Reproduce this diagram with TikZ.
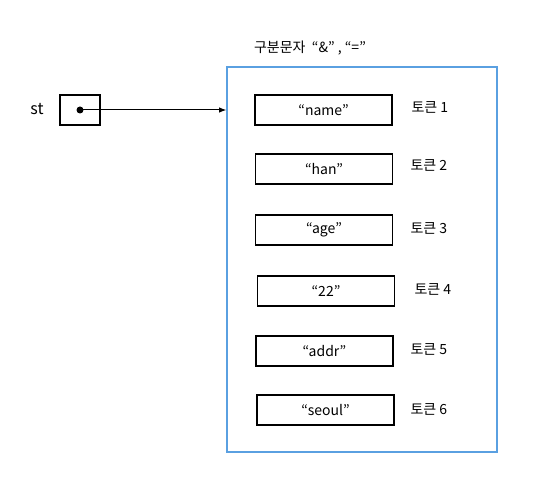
\documentclass[tikz,border=0pt]{standalone}
\usepackage{fontspec}
\setmainfont{Noto Sans CJK KR}
\usepackage{tikz}
\usetikzlibrary{arrows.meta}

\definecolor{frameblue}{RGB}{90,160,225}

\begin{document}
\begin{tikzpicture}[x=1pt, y=-1pt, every node/.style={font=\fontsize{14}{16}\selectfont}, >={Latex[length=2.5mm]},
	tokbox/.style={draw, line width=1.1pt, minimum width=137pt, minimum height=30pt, inner sep=0pt},
	toklabel/.style={anchor=west}]
	\useasboundingbox (0,0) rectangle (560,497);
	\node[draw, frameblue, line width=1.3pt, minimum width=270pt, minimum height=385pt, inner sep=0pt] (frame) at (362,259.5) {};
	\node (sep) at (310,48) {구분문자 \ “\&” , “=”};
	\node[font=\fontsize{16}{18}\selectfont] (stname) at (37,109) {st};
	\node[draw, line width=1.1pt, minimum width=40pt, minimum height=30pt, inner sep=0pt] (st) at (80,110) {};
	\fill (st.center) circle (3.5pt);
	\coordinate (target) at (frame.west |- st.center);
	\draw[->, line width=1pt] (st.center) -- (target);
	\node[tokbox] (t1) at (323.5,110) {“name”};
	\node[tokbox] (t2) at (324,169) {“han”};
	\node[tokbox] (t3) at (324,230) {“age”};
	\node[tokbox] (t4) at (326,291) {“22”};
	\node[tokbox] (t5) at (324.5,351) {“addr”};
	\node[tokbox] (t6) at (325.5,410) {“seoul”};
	\node[toklabel] (l1) at (408,107) {토큰 1};
	\node[toklabel] (l2) at (407,165) {토큰 2};
	\node[toklabel] (l3) at (407,228) {토큰 3};
	\node[toklabel] (l4) at (411,289) {토큰 4};
	\node[toklabel] (l5) at (407,349) {토큰 5};
	\node[toklabel] (l6) at (407,409) {토큰 6};
\end{tikzpicture}
\end{document}
